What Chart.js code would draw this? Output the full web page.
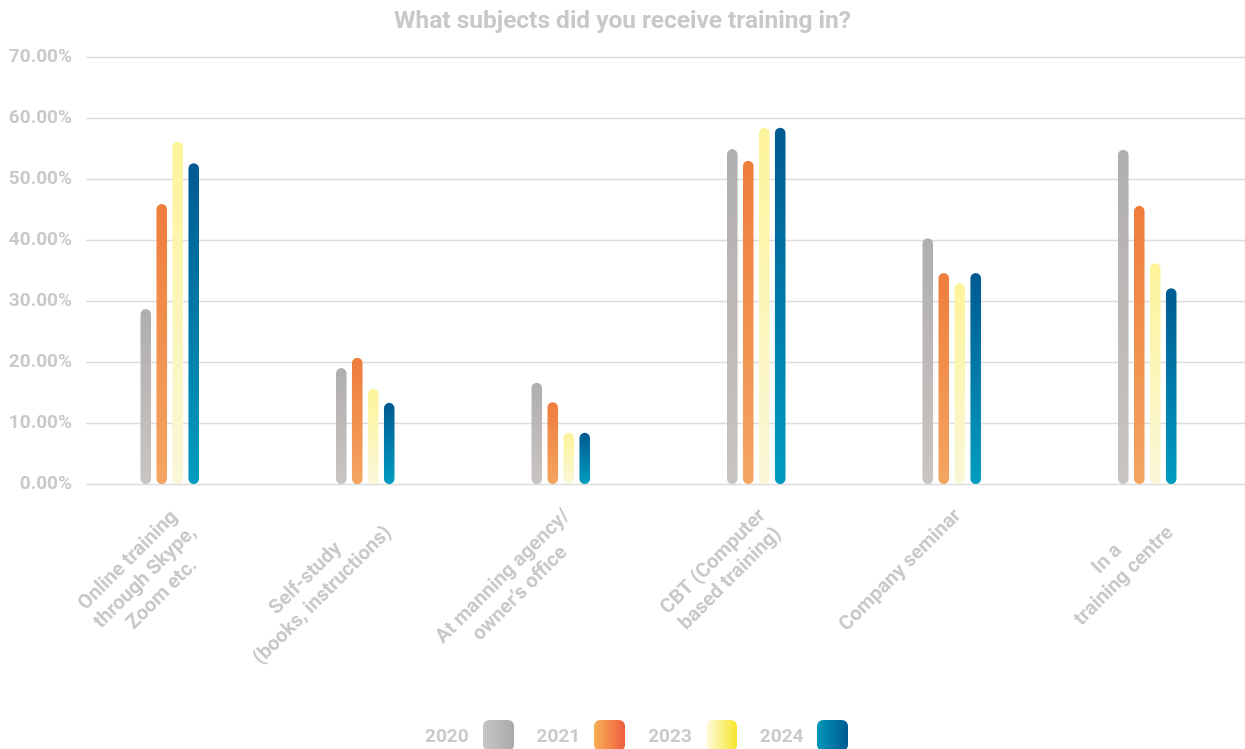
<!DOCTYPE html>
<html>
<head>
<meta charset="utf-8">
<script src="https://cdn.jsdelivr.net/npm/chart.js@4.4.1/dist/chart.umd.min.js"></script>
<style>
  body { margin: 0; background: #fff; }
  #wrap { position: relative; width: 1245px; height: 749px; overflow: hidden; }
  #title { position: absolute; top: 8px; left: 0; width: 1245px; text-align: center;
           font: bold 24.5px/24px "Liberation Sans Narrow", Roboto, sans-serif; color: #c8c8c8; }
  #legend { position: absolute; left: 425px; top: 720px; display: flex; align-items: center;
            font: bold 19px Roboto, sans-serif; color: #cacaca; }
  .item { display: flex; align-items: center; margin-right: 23px; }
  .box { width: 31px; height: 31px; border-radius: 6px; margin-left: 14px; }
</style>
</head>
<body>
<div id="wrap">
  <canvas id="chart" width="1245" height="749"></canvas>
  <div id="title">What subjects did you receive training in?</div>
  <div id="legend"></div>
</div>
<script>
// Categories (x labels, one entry per line)
const categories = [
    ['Online training', 'through Skype,', 'Zoom etc.'],
    ['Self-study', '(books, instructions)'],
    ['At manning agency/', 'owner\u2019s office'],
    ['CBT (Computer', 'based training)'],
    ['Company seminar'],
    ['In a', 'training centre']
];
const years = ['2020', '2021', '2023', '2024'];

// Percent values
const v2020 = [28.7, 19.0, 16.6, 54.9, 40.3, 54.8];
const v2021 = [45.9, 20.7, 13.4, 53.0, 34.6, 45.6];
const v2023 = [56.1, 15.6, 8.4, 58.4, 32.9, 36.2];
const v2024 = [52.6, 13.3, 8.4, 58.4, 34.6, 32.1];

// Y axis
const yMax = 70;
const yStep = 10;

// Styling
const barTop = ['#b0aeae', '#ef7d3c', '#fdf49a', '#005a92'];
const barBottom = ['#c9c4c1', '#f4a562', '#faf7d8', '#009cc0'];
const legendLeft = ['#c6c6c6', '#f7b055', '#fffbe2', '#0098b8'];
const legendRight = ['#a9a9a9', '#ee5e3e', '#f6e62a', '#005a92'];
const textColor = '#c9c9c9';
const gridStart = 86;

function barFill(i) {
    return (ctx) => {
        const chart = ctx.chart;
        if (!chart.chartArea || ctx.type !== 'data') return barTop[i];
        const y = chart.scales.y;
        const top = y.getPixelForValue(ctx.raw);
        const base = y.getPixelForValue(0);
        if (base - top < 1) return barTop[i];
        const g = chart.ctx.createLinearGradient(0, top, 0, base);
        g.addColorStop(0, barTop[i]);
        g.addColorStop(1, barBottom[i]);
        return g;
    };
}

// horizontal grid lines (start a little right of the axis labels)
const gridLines = {
    id: 'gridLines',
    beforeDatasetsDraw(chart) {
        const { ctx, chartArea, scales: { y } } = chart;
        ctx.save();
        ctx.strokeStyle = '#dcdcdc';
        ctx.lineWidth = 1.5;
        y.ticks.forEach((t, i) => {
            const py = Math.round(y.getPixelForTick(i)) + 0.5;
            ctx.beginPath();
            ctx.moveTo(gridStart, py);
            ctx.lineTo(chartArea.right, py);
            ctx.stroke();
        });
        ctx.restore();
    }
};

// rotated multi-line category labels, lines centred on each other
const xLabels = {
    id: 'xLabels',
    afterDraw(chart) {
        const { ctx, chartArea, scales: { x } } = chart;
        ctx.save();
        ctx.font = 'bold 20px Roboto';
        ctx.fillStyle = textColor;
        ctx.textAlign = 'center';
        ctx.textBaseline = 'middle';
        categories.forEach((lines, i) => {
            const w = Math.max(...lines.map(l => ctx.measureText(l).width));
            ctx.save();
            ctx.translate(x.getPixelForTick(i), chartArea.bottom);
            ctx.rotate(-Math.PI / 4);
            lines.forEach((l, j) => ctx.fillText(l, -16 - w / 2, 25 + j * 24));
            ctx.restore();
        });
        ctx.restore();
    }
};

const seriesValues = [v2020, v2021, v2023, v2024];

new Chart(document.getElementById('chart'), {
    type: 'bar',
    data: {
        labels: categories.map(c => c.join(' ')),
        datasets: years.map((yr, i) => ({
            label: yr,
            data: seriesValues[i],
            backgroundColor: barFill(i)
        }))
    },
    options: {
        responsive: false,
        animation: false,
        layout: { padding: { top: 57, bottom: 257, left: 0, right: 0 } },
        plugins: { legend: { display: false }, tooltip: { enabled: false } },
        datasets: {
            bar: { categoryPercentage: 0.327, barPercentage: 0.66, borderRadius: 6, borderSkipped: false }
        },
        scales: {
            x: {
                grid: { display: false },
                border: { display: false },
                ticks: { display: false }
            },
            y: {
                min: 0,
                max: yMax,
                ticks: {
                    stepSize: yStep,
                    padding: 0,
                    color: textColor,
                    font: { family: 'Roboto', size: 19, weight: 'bold' },
                    callback: v => v.toFixed(2) + '%'
                },
                grid: { display: false, drawTicks: false },
                border: { display: false },
                afterFit: s => { s.width = 72; }
            }
        }
    },
    plugins: [gridLines, xLabels]
});

// HTML legend: label first, swatch after
const legend = document.getElementById('legend');
years.forEach((yr, i) => {
    const item = document.createElement('div');
    item.className = 'item';
    item.innerHTML = `<span>${yr}</span><div class="box" style="background:linear-gradient(to right, ${legendLeft[i]}, ${legendRight[i]})"></div>`;
    legend.appendChild(item);
});
</script>
</body>
</html>
